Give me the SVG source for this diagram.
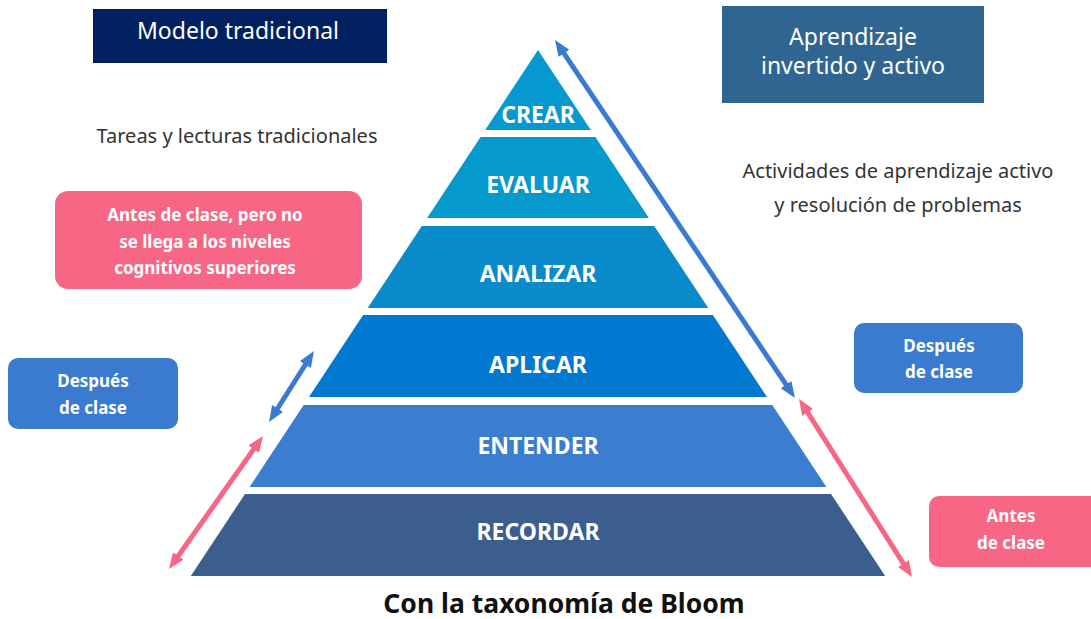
<svg xmlns="http://www.w3.org/2000/svg" width="1091" height="619" viewBox="0 0 1091 619">
<defs>
<style>
text{font-family:"Noto Sans","Open Sans","DejaVu Sans",sans-serif;text-anchor:middle}
.lvl{fill:#fff;font-weight:bold;font-size:23px}
.hdr{fill:#fff;font-size:23px}
.body{fill:#333;font-size:20px}
.tag{fill:#fff;font-weight:bold;font-size:17px}
.title{fill:#111;font-weight:bold;font-size:26.5px}
.ab{stroke:#3A7BD0;stroke-width:5;fill:none}
.ap{stroke:#F86685;stroke-width:5;fill:none}
</style>
<marker id="hb" viewBox="0 0 16 13" refX="6" refY="6.5" markerWidth="16" markerHeight="13" markerUnits="userSpaceOnUse" orient="auto-start-reverse"><path d="M0,0 L16,6.5 L0,13 z" fill="#3A7BD0"/></marker>
<marker id="hp" viewBox="0 0 16 13" refX="6" refY="6.5" markerWidth="16" markerHeight="13" markerUnits="userSpaceOnUse" orient="auto-start-reverse"><path d="M0,0 L16,6.5 L0,13 z" fill="#F86685"/></marker>
</defs>
<rect width="1091" height="619" fill="#fff"/>

<g id="crear"><polygon points="538,50 590.8,130 485.2,130" fill="#0699D0"/><text class="lvl" x="538" y="123">CREAR</text></g>
<g id="evaluar"><polygon points="480.6,137 595.4,137 648.9,218 427.1,218" fill="#0699CE"/><text class="lvl" x="538" y="193">EVALUAR</text></g>
<g id="analizar"><polygon points="421.8,226 654.2,226 708.3,308 367.7,308" fill="#0A8BC9"/><text class="lvl" x="538" y="282">ANALIZAR</text></g>
<g id="aplicar"><polygon points="363.1,315 712.9,315 767,397 309,397" fill="#0279D0"/><text class="lvl" x="538" y="373">APLICAR</text></g>
<g id="entender"><polygon points="303.7,405 772.3,405 826.4,487 249.6,487" fill="#3B7ECF"/><text class="lvl" x="538" y="454">ENTENDER</text></g>
<g id="recordar"><polygon points="245,494 831,494 885.2,576 190.8,576" fill="#3B5E8F"/><text class="lvl" x="538" y="540">RECORDAR</text></g>

<g id="modelo"><rect x="93" y="9" width="294" height="54" fill="#00205F"/><text class="hdr" x="238" y="39">Modelo tradicional</text></g>
<g id="aprendizaje"><rect x="722" y="6" width="262" height="97" fill="#2F6590"/><text class="hdr" x="853" y="45">Aprendizaje</text><text class="hdr" x="853" y="74">invertido y activo</text></g>
<g id="tareas"><text class="body" x="237" y="143">Tareas y lecturas tradicionales</text></g>
<g id="actividades"><text class="body" x="898" y="178">Actividades de aprendizaje activo</text><text class="body" x="898" y="212">y resolución de problemas</text></g>
<g id="antes-no"><rect x="55" y="191" width="307" height="98" rx="13" fill="#F86685"/><text class="tag" x="205" y="221">Antes de clase, pero no</text><text class="tag" x="205" y="248">se llega a los niveles</text><text class="tag" x="205" y="274">cognitivos superiores</text></g>
<g id="despues-izq"><rect x="8" y="358" width="170" height="71" rx="10" fill="#3A7BD0"/><text class="tag" x="93" y="387">Después</text><text class="tag" x="93" y="414">de clase</text></g>
<g id="despues-der"><rect x="854" y="323" width="169" height="70" rx="10" fill="#3A7BD0"/><text class="tag" x="939" y="352">Después</text><text class="tag" x="939" y="378">de clase</text></g>
<g id="antes-der"><rect x="929" y="496" width="172" height="71" rx="10" fill="#F86685"/><text class="tag" x="1011" y="522">Antes</text><text class="tag" x="1011" y="549">de clase</text></g>
<g id="titulo"><text class="title" x="564" y="613">Con la taxonomía de Bloom</text></g>

<g id="connectors">
<line class="ab" x1="560.6" y1="48.3" x2="789.4" y2="389.7" marker-start="url(#hb)" marker-end="url(#hb)"/>
<line class="ap" x1="804.4" y1="407.4" x2="906.6" y2="568.6" marker-start="url(#hp)" marker-end="url(#hp)"/>
<line class="ab" x1="308.6" y1="359.5" x2="274.4" y2="413.5" marker-start="url(#hb)" marker-end="url(#hb)"/>
<line class="ap" x1="257.2" y1="444.2" x2="174.8" y2="560.8" marker-start="url(#hp)" marker-end="url(#hp)"/>
</g>
</svg>
